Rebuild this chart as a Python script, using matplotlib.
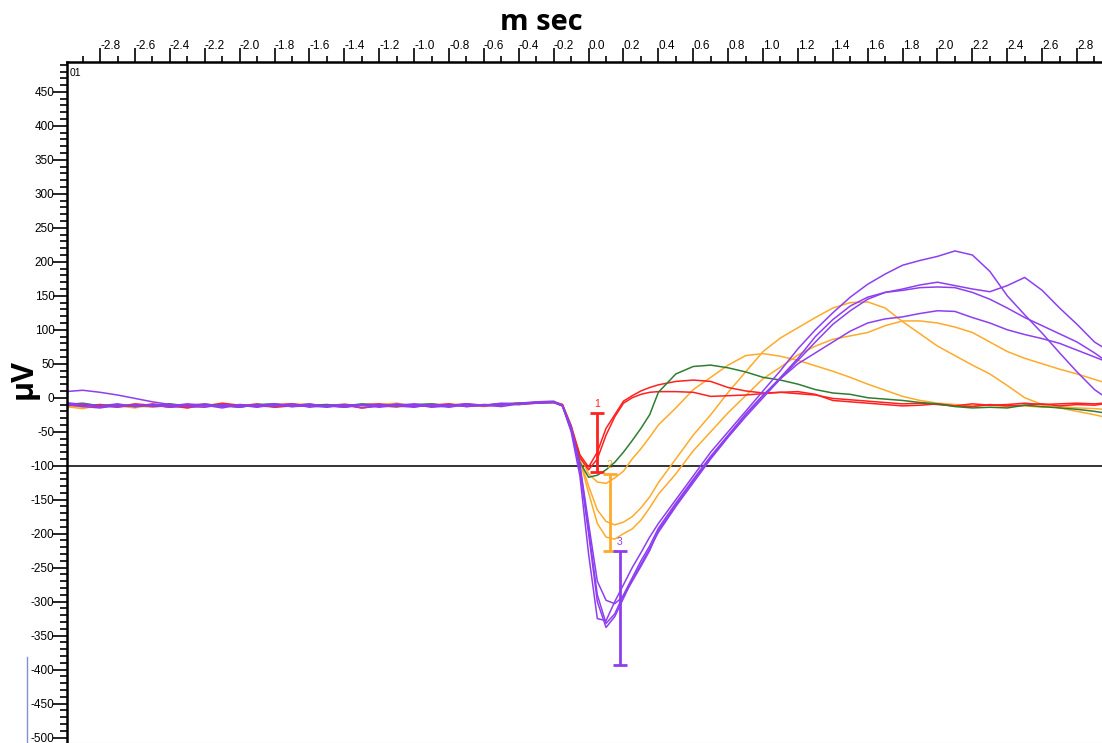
import numpy as np
import matplotlib.pyplot as plt
from matplotlib.lines import Line2D

plt.rcParams['font.family'] = ['Liberation Sans', 'DejaVu Sans']
plt.rcParams['axes.unicode_minus'] = False

# sample times (ms)
t = [-3.0, -2.9, -2.8, -2.7, -2.6, -2.5, -2.4, -2.3, -2.2, -2.1, -2.0, -1.9, -1.8, -1.7,
     -1.6, -1.5, -1.4, -1.3, -1.2, -1.1, -1.0, -0.9, -0.8, -0.7, -0.6, -0.5, -0.4, -0.3, -0.2,
     -0.15, -0.1, -0.05, 0.0, 0.05, 0.1, 0.15, 0.2, 0.25, 0.3, 0.35,
     0.4, 0.5, 0.6, 0.7, 0.8, 0.9, 1.0, 1.1, 1.2, 1.3, 1.4, 1.5, 1.6, 1.7, 1.8, 1.9, 2.0,
     2.1, 2.2, 2.3, 2.4, 2.5, 2.6, 2.7, 2.8, 2.9, 2.95]

# responses (uV)
red_1 = [-9, -12, -10, -13, -9, -11, -14, -10, -12, -8, -11, -13, -10, -9, -12, -11, -14, -10, -9, -12,
         -10, -13, -11, -9, -12, -10, -8, -7, -6,
         -10, -42, -84, -102, -80, -45, -25, -5, 3, 10, 15,
         19, 24, 26, 24, 15, 10, 7, 8, 6, 4, -1, -3, -5, -7, -9, -8, -10, -12, -9, -11, -10, -8,
         -10, -9, -8, -9, -8]
red_2 = [-12, -10, -14, -11, -13, -9, -12, -15, -10, -13, -12, -9, -14, -12, -10, -13, -11, -15, -12,
         -10, -13, -11, -9, -13, -11, -9, -10, -8, -7,
         -11, -45, -88, -106, -90, -55, -28, -8, 0, 5, 8,
         9, 9, 8, 2, 3, 4, 6, 8, 9, 5, -4, -6, -8, -10, -12, -11, -9, -12, -13, -10, -12, -11, -9,
         -12, -10, -11, -9]
green_1 = [-10, -8, -12, -10, -13, -11, -9, -12, -10, -11, -14, -10, -9, -12, -11, -10, -12, -9, -11,
           -13, -10, -9, -12, -10, -11, -9, -8, -7, -7,
           -12, -48, -95, -117, -114, -106, -95, -80, -63, -45, -25,
           8, 35, 46, 48, 44, 38, 30, 26, 20, 12, 7, 5, 0, -2, -4, -7, -9, -13, -15, -14, -15, -11,
           -13, -15, -17, -20, -22]
orange_1 = [-13, -16, -11, -14, -10, -12, -9, -15, -11, -13, -10, -12, -14, -10, -9, -13, -11, -12,
            -10, -8, -12, -10, -13, -9, -11, -10, -9, -7, -6,
            -10, -40, -85, -112, -124, -126, -118, -108, -90, -75, -58,
            -40, -15, 12, 30, 48, 62, 65, 61, 55, 47, 39, 30, 20, 11, 2, -4, -8, -10, -12, -11, -13,
            -12, -14, -13, -15, -16, -17]
orange_2 = [-9, -11, -13, -10, -12, -14, -11, -10, -13, -9, -12, -11, -10, -13, -11, -12, -9, -13,
            -11, -10, -12, -9, -11, -12, -10, -11, -9, -8, -6,
            -10, -42, -90, -130, -165, -182, -187, -183, -175, -162, -146,
            -125, -90, -55, -25, 8, 38, 68, 88, 103, 118, 132, 140, 141, 132, 112, 94, 76, 62, 48,
            35, 18, 0, -10, -15, -20, -25, -28]
orange_3 = [-11, -14, -10, -12, -15, -10, -13, -11, -9, -12, -13, -11, -12, -9, -12, -10, -13, -11,
            -12, -14, -11, -12, -9, -11, -13, -10, -8, -7, -7,
            -10, -42, -92, -140, -185, -205, -208, -200, -193, -180, -162,
            -142, -112, -78, -50, -22, 3, 28, 45, 63, 76, 86, 91, 96, 106, 113, 113, 110, 104, 96,
            82, 68, 58, 50, 42, 35, 27, 23]
purple_1 = [9, 11, 8, 4, -1, -6, -10, -12, -9, -13, -11, -14, -10, -12, -9, -13, -12, -10, -14, -11,
            -9, -12, -10, -13, -11, -8, -9, -7, -6,
            -12, -50, -115, -230, -325, -328, -300, -275, -250, -228, -205,
            -185, -150, -115, -80, -50, -20, 10, 40, 72, 100, 125, 148, 167, 182, 195, 202, 208, 216,
            210, 186, 150, 122, 95, 66, 38, 12, 3]
purple_2 = [-10, -13, -15, -11, -12, -10, -14, -12, -11, -15, -10, -12, -13, -9, -14, -11, -10, -15,
            -12, -13, -10, -14, -12, -9, -11, -13, -9, -8, -7,
            -12, -45, -105, -200, -300, -338, -322, -295, -268, -245, -222,
            -198, -160, -125, -90, -58, -28, 0, 28, 55, 82, 108, 128, 145, 155, 160, 166, 170, 165,
            160, 156, 165, 177, 158, 132, 108, 82, 74]
purple_3 = [-7, -10, -12, -9, -13, -11, -10, -13, -14, -10, -12, -11, -9, -13, -12, -14, -10, -11,
            -13, -9, -12, -11, -14, -10, -12, -9, -10, -7, -6,
            -11, -42, -98, -185, -270, -298, -303, -292, -270, -248, -225,
            -195, -158, -122, -88, -56, -25, 3, 30, 58, 90, 115, 135, 148, 155, 158, 162, 163, 162,
            155, 145, 132, 118, 106, 94, 82, 66, 57]
purple_4 = [-11, -9, -12, -14, -10, -13, -12, -9, -11, -12, -14, -10, -11, -13, -10, -12, -14, -11,
            -10, -12, -14, -10, -11, -12, -10, -11, -8, -6, -5,
            -12, -44, -100, -195, -290, -332, -318, -290, -265, -240, -218,
            -192, -155, -120, -86, -55, -24, 4, 28, 50, 66, 82, 98, 110, 116, 119, 124, 128, 127,
            118, 110, 100, 93, 87, 80, 70, 60, 55]

# cursor markers
mark_t = [0.05, 0.12, 0.18]
mark_top = [-23, -112, -226]
mark_bottom = [-109, -225, -393]
mark_text = ['1', '2', '3']

RED = '#ff2020'
GREEN = '#2f7d32'
ORANGE = '#ffaa2a'
PURPLE = '#8d3ff0'

fig = plt.figure(figsize=(11.02, 7.43), dpi=100)
ax = fig.add_axes([67 / 1102, 0, 1 - 67 / 1102, 1 - 62 / 743])

for y in [orange_1, orange_2, orange_3]:
    ax.plot(t, y, color=ORANGE, lw=1.1)
for y in [red_1, red_2]:
    ax.plot(t, y, color=RED, lw=1.1)
ax.plot(t, green_1, color=GREEN, lw=1.1)
for y in [purple_1, purple_2, purple_3, purple_4]:
    ax.plot(t, y, color=PURPLE, lw=1.1)

ax.axhline(-100, color='#333333', lw=1.4, zorder=1)

for x, top, bot, lab, c in zip(mark_t, mark_top, mark_bottom, mark_text, [RED, ORANGE, PURPLE]):
    mid = (top + bot) / 2
    ax.errorbar([x], [mid], yerr=[[mid - bot], [top - mid]], fmt='none', ecolor=c,
                elinewidth=2, capsize=5, capthick=2, zorder=5)
    ax.annotate(lab, xy=(x, top), xytext=(0, 3), textcoords='offset points',
                ha='center', va='bottom', color=c, fontsize=7.5, zorder=6)

ax.set_xlim(-2.99, 2.943)
ax.set_ylim(-508, 494)

x_major = np.round(np.arange(-28, 29, 2) / 10, 1)
x_minor = np.round(np.arange(-29, 30, 2) / 10, 1)
ax.xaxis.tick_top()
ax.set_xticks(x_major)
ax.set_xticklabels([f'{v:.1f}' for v in x_major])
ax.set_xticks(x_minor, minor=True)
for lbl in ax.get_xticklabels():
    lbl.set_ha('left')
ax.tick_params(axis='x', which='major', direction='out', length=10, width=1.2, pad=-2.5,
               labelsize=8.5)
ax.tick_params(axis='x', which='minor', direction='out', length=4.5, width=1.2)

ax.set_yticks(np.arange(-500, 451, 50))
ax.set_yticks(np.arange(-500, 491, 10), minor=True)
ax.tick_params(axis='y', which='major', direction='out', length=10, width=1.2, pad=-1,
               labelsize=8.5)
ax.tick_params(axis='y', which='minor', direction='out', length=5, width=1.2)

ax.spines['right'].set_visible(False)
ax.spines['top'].set_linewidth(1.8)
ax.spines['left'].set_linewidth(1.8)
ax.spines['bottom'].set_color('#cccccc')

ax.annotate('01', xy=(0, 1), xycoords='axes fraction', xytext=(2, -4),
            textcoords='offset points', ha='left', va='top', fontsize=7.5)

fig.text(541 / 1102, 1 - 22 / 743, 'm sec', ha='center', va='center', fontsize=21,
         fontweight='bold', family=['Open Sans', 'DejaVu Sans'])
fig.text(24 / 1102, 1 - 379 / 743, 'µV', ha='center', va='center', rotation=90, fontsize=22,
         fontweight='bold', family=['Open Sans', 'DejaVu Sans'])

fig.add_artist(Line2D([27 / 1102, 27 / 1102], [0, 1 - 657 / 743], color='#7f93cf', lw=1))

fig.savefig('out.png', dpi=100)
